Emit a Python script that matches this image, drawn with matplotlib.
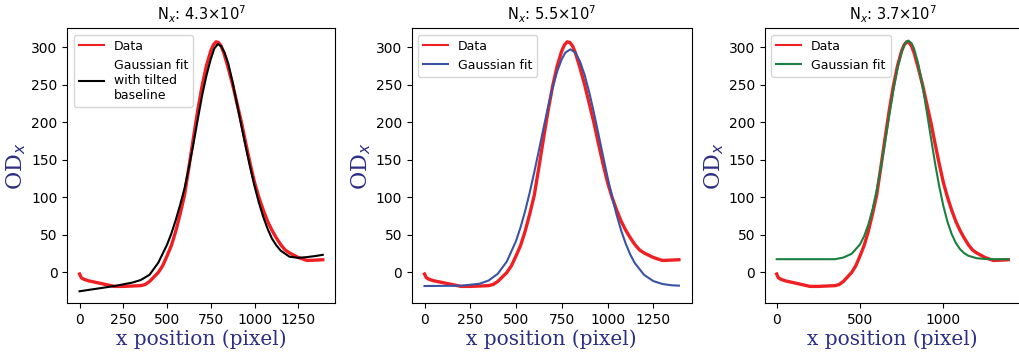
import matplotlib.pyplot as plt
import numpy as np

x_data = np.array([0, 10, 25, 50, 100, 150, 200, 250, 300, 350, 375, 400, 425, 450, 475,
                   500, 525, 550, 575, 600, 625, 650, 675, 700, 725, 750, 765, 780, 795,
                   810, 825, 850, 875, 900, 925, 950, 975, 1000, 1025, 1050, 1075, 1100,
                   1125, 1150, 1175, 1200, 1225, 1250, 1300, 1350, 1390])
od_data = np.array([-2, -7, -9, -11, -13.5, -16, -18.5, -18.5, -18, -17.5, -16, -12, -6, 0, 9,
                    22, 36, 55, 78, 103, 140, 178, 215, 248, 275, 295, 303, 307, 306,
                    301, 292, 272, 250, 225, 200, 172, 145, 120, 100, 83, 68, 56,
                    46, 37, 30, 26, 23, 20, 16, 16.5, 17])

# fit curves
x_fit1 = np.array([0, 100, 200, 300, 350, 400, 450, 500, 525, 550, 575, 600, 625, 650, 675,
                   700, 725, 750, 770, 790, 810, 830, 850, 875, 900, 925, 950, 975, 1000,
                   1025, 1050, 1075, 1100, 1125, 1150, 1200, 1250, 1300, 1350, 1390])
od_fit1 = np.array([-25, -21.5, -18, -13.5, -10, -3, 13, 37, 52, 70, 90, 112, 140, 170, 203,
                    235, 262, 284, 298, 304, 301, 292, 278, 253, 224, 195, 167, 140, 115,
                    93, 74, 58, 45, 36, 29, 21, 19.5, 20.5, 22, 23.5])

x_fit2 = np.array([0, 200, 300, 350, 400, 450, 500, 525, 550, 575, 600, 625, 650, 675, 700,
                   725, 750, 770, 797, 825, 850, 875, 900, 925, 950, 975, 1000, 1025, 1050,
                   1075, 1100, 1125, 1150, 1200, 1250, 1300, 1350, 1390])
od_fit2 = np.array([-18, -17.6, -15, -10.7, -1.8, 14.7, 41.9, 60.3, 81.9, 106.6, 133.8, 162.5,
                    191.8, 220, 246, 267.7, 284, 292.7, 297, 292.4, 280.6, 262.9, 240, 213.4,
                    184.8, 155.5, 127, 100.4, 76.4, 55.5, 38, 23.6, 12.2, -3.2, -11.4, -15.3,
                    -17, -17.5])

x_fit3 = np.array([0, 350, 400, 450, 500, 525, 550, 575, 600, 625, 650, 675, 700, 725, 750,
                   770, 790, 810, 825, 850, 875, 900, 925, 950, 975, 1000, 1025, 1050, 1075,
                   1100, 1125, 1150, 1200, 1250, 1300, 1390])
od_fit3 = np.array([17.7, 17.7, 19.9, 24.9, 37.4, 48.5, 63.7, 84, 109.4, 139.5, 173, 208.3,
                    242, 271.9, 294, 305, 308.7, 305, 297.5, 277, 248.6, 215, 180.1, 146, 115,
                    88.7, 67.4, 51.2, 39.3, 31.1, 25.7, 22.3, 19, 18, 17.7, 17.7])

titles = [r'N$_x$: 4.3$\times$10$^7$', r'N$_x$: 5.5$\times$10$^7$', r'N$_x$: 3.7$\times$10$^7$']
fit_labels = ['Gaussian fit\nwith tilted\nbaseline', 'Gaussian fit', 'Gaussian fit']
fit_colors = ['black', '#3a53a4', '#1a8040']
fits = [(x_fit1, od_fit1), (x_fit2, od_fit2), (x_fit3, od_fit3)]
xticks = [[0, 250, 500, 750, 1000, 1250], [0, 250, 500, 750, 1000, 1250], [0, 500, 1000]]

W, H = 1019, 354
fig = plt.figure(figsize=(W / 100, H / 100), dpi=100)

# axes boxes in pixels: left, right
boxes = [(67.3, 335), (411.7, 691.7), (765, 1020)]
top, bottom = 28.3, 303.3

label_color = '#2b2e83'

for i in range(3):
    l, r = boxes[i]
    ax = fig.add_axes([l / W, 1 - bottom / H, (r - l) / W, (bottom - top) / H])
    ax.plot(x_data, od_data, color='#ee2024', lw=2.4, label='Data')
    ax.plot(fits[i][0], fits[i][1], color=fit_colors[i], lw=1.5, label=fit_labels[i])
    ax.set_xlim(-70, 1460)
    ax.set_ylim(-41, 325)
    ax.set_xticks(xticks[i])
    ax.set_yticks([0, 50, 100, 150, 200, 250, 300])
    ax.set_title(titles[i], fontsize=10.5)
    ax.set_xlabel('x position (pixel)', family='DejaVu Serif', fontsize=14.5, color=label_color, labelpad=2)
    ax.set_ylabel('OD$_x$', family='DejaVu Serif', fontsize=16, color=label_color, labelpad=2)
    leg = ax.legend(loc='upper left', fontsize=9)
    leg.get_lines()[0].set_linewidth(1.5)

fig.savefig('out.png', dpi=100)
